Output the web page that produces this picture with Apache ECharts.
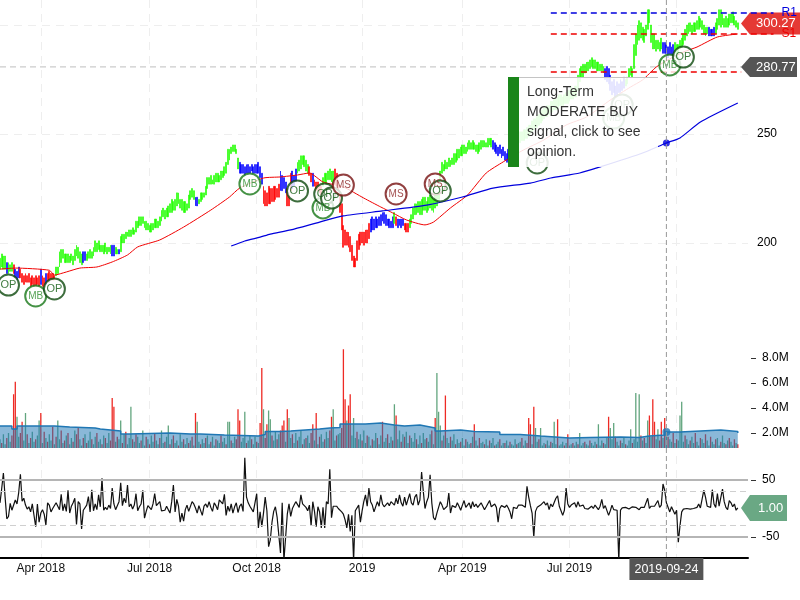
<!DOCTYPE html>
<html>
<head>
<meta charset="utf-8">
<style>html,body{margin:0;padding:0;background:#fff}#main{width:800px;height:600px}</style>
<script src="https://cdn.jsdelivr.net/npm/echarts@6/dist/echarts.min.js"></script>
</head>
<body>
<div id="main"></div>
<script>
// daily bars
var priceHigh = [
193,195,194,194,191,191,190,191,190,188,
187,189,188,186,185,186,185,186,184,185,
184,185,184,185,188,185,184,186,186,187,
186,186,185,189,189,196,197,197,195,195,
195,194,195,194,197,199,198,196,195,196,
196,195,196,197,196,198,201,200,201,199,
199,199,200,198,198,199,199,199,198,197,
197,203,204,204,205,205,206,206,207,206,
210,210,212,212,212,210,210,209,208,209,
209,211,211,210,212,215,216,215,216,217,
218,220,219,220,223,223,220,220,219,219,
218,222,224,225,224,221,221,220,223,223,
223,226,230,230,231,229,231,232,232,231,
233,233,235,237,243,243,244,245,245,243,
239,237,236,236,235,236,236,235,236,235,
236,236,237,235,232,226,224,223,226,225,
225,226,226,225,227,233,231,230,228,225,
222,232,233,231,234,237,238,240,240,240,
238,236,235,232,232,229,228,228,226,226,
230,232,232,233,234,233,233,234,232,228,
222,218,208,206,205,205,203,199,194,193,
201,204,205,205,205,206,206,209,211,212,
211,212,211,212,213,214,214,213,211,211,
210,212,214,212,211,211,211,211,209,209,
209,211,213,216,218,218,219,219,220,221,
221,219,221,222,221,220,222,222,226,233,
237,236,238,237,239,238,239,241,241,243,
243,244,245,245,244,246,247,246,247,246,
245,245,246,247,247,247,246,248,248,248,
247,246,245,244,245,243,244,242,241,243,
246,248,248,249,249,250,251,251,252,252,
253,254,254,256,257,257,258,259,260,261,
262,262,263,263,265,265,266,266,267,268,
268,267,268,269,270,270,272,271,272,272,
277,280,281,282,282,283,283,284,285,284,
284,283,283,282,282,281,280,281,280,277,
274,275,272,274,273,275,274,276,275,276,
280,281,280,291,296,300,302,301,299,298,
300,307,307,300,296,296,293,293,292,294,
292,292,291,290,292,290,291,292,291,291,
293,294,296,298,300,301,301,300,301,301,
302,304,303,302,300,299,299,299,298,298,
299,301,303,307,307,305,303,304,303,305,
305,306,304,302,301];
var priceLow = [
188,189,188,188,186,186,187,187,186,184,
183,184,184,182,181,182,182,182,180,181,
180,180,181,180,181,180,180,181,182,182,
183,183,183,185,186,189,191,193,191,191,
191,191,192,190,192,194,193,191,190,191,
192,192,193,193,193,194,196,196,197,196,
196,195,196,195,196,195,194,194,195,195,
195,196,200,200,202,203,203,203,204,204,
205,207,208,208,209,207,206,206,205,205,
206,207,207,207,208,210,212,211,212,212,
214,214,215,215,217,218,216,215,214,214,
215,216,220,221,220,217,217,218,219,220,
221,222,225,227,227,227,227,228,228,228,
229,230,231,232,236,238,241,242,242,241,
234,232,232,232,231,232,232,232,233,232,
232,232,232,230,227,218,217,217,218,218,
219,219,220,221,221,224,224,225,223,217,
217,224,225,226,228,232,233,234,236,235,
233,232,231,228,226,226,224,224,223,222,
226,228,227,229,229,228,227,227,226,222,
214,206,198,199,199,198,196,192,189,189,
192,197,199,200,199,200,200,202,205,206,
206,207,207,208,208,210,209,208,208,207,
207,207,209,208,207,208,207,208,206,205,
205,207,209,211,213,213,214,213,213,215,
215,214,215,216,215,214,216,217,220,225,
232,233,234,234,235,235,236,236,237,238,
239,240,240,241,241,242,243,243,243,243,
242,241,242,243,244,244,244,244,245,244,
243,242,241,240,241,239,240,238,237,238,
239,241,243,244,245,245,246,247,247,248,
248,249,250,251,252,253,253,254,255,256,
257,258,258,259,260,260,261,261,262,263,
263,263,264,264,264,265,266,266,267,267,
270,274,276,276,278,278,279,280,281,280,
280,279,279,279,279,278,275,274,273,270,
268,269,267,268,269,269,270,271,272,273,
276,277,276,280,286,291,293,294,293,292,
295,298,301,292,289,289,288,289,288,289,
287,287,287,285,286,286,286,287,286,287,
289,290,291,293,295,296,297,296,297,297,
298,298,299,298,296,295,296,295,295,295,
295,296,298,300,299,300,299,299,299,300,
301,301,300,299,298];
// colour of the bars as runs: last index of the run, then its key
var trendEnd = [3,4,7,8,11,23,24,26,27,32,48,50,65,67,69,70,114,116,140,154,164,168,171,174,181,183,184,189,196,217,231,232,233,237,240,289,300,355,367,389,396,416,420,434];
var trendKey = 'gbgrbrbrbrgbgbgbgbgbrbrbgrbrgrbgrbrgbgbgbgbg';
var volume = [ // millions, negative = red bar
1.5,-1.2,1.9,1.1,-1.6,2.0,1.3,-1.8,-5.1,-6.1,
3.3,1.7,-2.0,-2.9,1.4,3.6,-1.9,1.2,-1.6,2.1,
1.3,-1.5,1.8,3.0,-3.6,1.2,-2.1,1.6,-1.3,1.9,
1.4,-2.5,1.1,-1.7,3.0,1.5,-2.2,1.2,-1.4,1.8,
-2.0,1.1,1.6,-1.3,2.2,-1.9,-2.4,1.5,1.0,-1.6,
1.9,-1.2,1.4,2.1,-1.5,1.1,1.7,-2.0,1.3,1.5,
-1.1,1.8,-1.6,1.2,2.0,-1.4,-4.8,-4.1,1.3,-1.7,
1.5,3.0,-1.2,1.9,-2.1,1.1,1.6,4.1,-1.5,1.3,
-1.9,1.7,1.2,-1.4,2.2,1.0,-1.7,1.5,-1.1,1.8,
1.3,-2.0,1.4,1.1,-1.6,2.2,1.2,-1.3,1.7,2.6,
-1.1,1.5,-1.8,1.2,1.4,-1.0,1.9,1.3,-1.5,1.1,
1.6,-1.2,1.4,-1.7,1.0,-3.6,2.9,1.3,-1.1,1.5,
1.2,-1.6,1.8,1.1,-1.3,1.7,1.0,-1.5,1.4,1.2,
-1.8,1.3,1.6,-1.1,2.9,2.9,-1.4,1.2,1.7,-1.5,
-3.9,-3.0,1.3,1.6,3.7,-1.2,1.4,1.8,-1.5,1.1,
1.7,-1.3,1.2,-2.8,-7.2,3.9,-1.6,-2.7,3.8,3.1,
-1.8,1.4,2.1,-1.5,1.9,-2.2,-2.6,-3.0,1.3,-3.9,
3.2,1.6,-1.9,1.2,2.0,-1.4,1.7,2.2,-1.1,1.5,
-1.6,1.8,1.2,-2.0,-2.7,1.4,-3.6,1.1,-1.7,1.9,
1.3,-1.5,2.1,1.6,-2.2,-3.3,3.9,1.4,-1.8,1.9,
2.0,-2.4,-8.7,-4.7,3.0,-4.2,-5.1,1.8,3.2,1.6,
-2.1,1.5,1.9,-1.4,2.2,1.2,-1.8,1.7,1.0,-1.5,
1.4,2.0,-1.6,1.1,1.8,-2.9,1.3,1.6,-1.9,1.2,
1.7,-1.4,4.3,-3.4,1.5,2.2,-1.3,1.9,-1.7,2.1,
1.2,-1.8,1.6,1.3,2.0,-1.5,1.1,1.8,-1.2,2.0,
1.5,-1.6,1.3,1.9,-2.2,1.1,-3.2,6.8,3.7,2.6,
-1.4,1.8,-5.0,1.6,1.2,-1.7,1.4,1.9,-1.1,1.5,
1.2,-1.3,1.6,1.0,-1.5,1.3,1.1,-1.2,1.7,-2.7,
1.4,1.0,-1.6,1.2,1.3,-1.1,1.5,1.0,-1.4,1.2,
1.6,-1.0,1.1,1.3,-1.5,1.0,1.2,-1.2,1.4,1.0,
-1.3,1.1,1.0,1.5,-1.1,1.2,1.3,-1.6,1.0,1.4,
-1.2,-3.2,-2.7,1.1,-4.1,2.4,1.3,-1.5,2.4,1.0,
1.2,-1.1,1.4,1.0,-1.3,1.2,2.9,1.1,-3.1,1.0,
1.1,1.3,-1.0,1.2,-1.9,1.0,1.1,-1.2,1.0,1.3,
-1.1,2.0,1.0,1.2,-1.3,1.1,1.0,-1.4,1.2,1.0,
1.3,-1.1,2.7,1.0,1.4,-1.2,1.1,1.6,-3.3,2.4,
1.5,2.8,-1.7,1.3,1.0,-1.4,1.2,1.6,-1.1,1.0,
1.4,2.3,-1.2,1.5,5.2,1.3,5.1,-1.8,1.4,-1.6,
1.2,3.0,-3.4,1.7,-4.7,-2.9,1.5,2.3,-1.4,-2.9,
1.6,-3.2,1.9,-1.7,1.5,1.3,-2.0,1.2,-1.5,1.4,
3.4,4.5,1.3,-1.8,1.5,1.1,-1.4,1.7,1.2,-2.0,
1.3,1.0,-1.6,1.5,1.2,-1.9,1.4,1.0,-1.7,1.3,
1.1,-1.5,1.6,1.0,-1.3,1.8,1.2,-1.1,1.4,-1.6,
1.3,1.0,-1.5,1.2,-1.1];
var cci = [
10,35,62,20,-18,-14,9,-3,-5,15,
8,28,60,13,18,6,-1,3,-6,8,
5,-32,8,-24,-8,-2,-10,-29,10,6,
-6,0,-2,10,7,-2,25,-4,8,-5,
32,-8,4,10,18,-28,12,8,-36,-3,
-2,6,21,-6,33,-4,8,-2,24,3,
53,-3,2,-2,6,0,36,8,-2,0,
12,45,5,18,10,41,3,8,-1,6,
26,-4,3,8,32,-17,-5,5,2,-2,
8,26,5,6,12,-4,-1,-3,4,-2,
-8,12,41,-6,16,4,-24,-8,-22,-2,
6,-5,-3,12,8,1,-8,5,3,-12,
4,8,2,12,2,-5,10,5,-2,15,
12,8,25,-12,4,-5,8,-8,3,10,
-7,4,8,-5,89,20,10,4,6,-6,
-3,26,-34,-6,-32,-8,20,-4,-67,-55,
-24,-5,3,-15,-15,-78,10,-92,-92,-10,
8,-14,0,6,12,10,2,24,8,6,
2,-4,6,-30,12,-5,-32,3,-6,-34,
2,-34,12,8,69,-16,4,6,4,0,
3,-6,-10,-20,-34,-10,-40,-12,-92,-4,
-2,6,-24,-4,12,24,4,36,12,6,
-6,-3,12,4,24,8,3,6,10,5,
12,10,6,18,8,24,10,4,20,6,
3,26,10,6,20,25,6,15,64,30,
0,12,20,59,10,-16,-20,-8,2,12,
6,-2,0,4,27,-8,5,8,2,10,
4,-3,6,14,2,5,10,0,12,3,
8,2,5,10,4,-2,3,6,14,3,
6,8,2,-24,0,5,4,2,6,1,
-6,-18,2,4,0,6,3,6,8,2,
39,20,5,-8,-50,-5,2,0,6,3,
12,6,10,-2,8,3,6,18,22,4,
-4,-12,-3,36,8,2,6,3,10,2,
12,4,2,6,0,3,-1,-2,4,0,
6,2,-2,4,16,0,5,2,-12,-4,
6,-2,-4,-3,-92,-3,1,0,2,3,
-1,1,3,0,2,1,-2,2,4,2,
4,18,0,4,5,4,6,14,2,6,
43,32,10,8,-6,3,0,-10,-3,-59,
-30,-6,-1,-2,0,0,-1,0,0,-1,
2,8,1,2,32,20,4,6,2,33,
8,2,26,4,2,34,12,2,-2,14,
10,3,8,-3,1];
// moving averages: session index and value
var ma50Idx = [0,9,29,32,39,47,57,66,75,81,94,108,124,135,141,155,165,175,182,190,202,214,224,231,239,250,255,265,275,286,296,308,320,333,345,359,371,378,386,393,402,410,422,434];
var ma50Val = [188,188.5,187.5,185.3,186.7,188.5,189,191.3,194.5,198.2,201.4,207.3,215.1,221.1,225.2,229.8,230.3,231.2,232.1,228,225.7,220.6,216.5,213.8,210.6,208.3,209.6,216.1,222,232.1,237.2,242.7,247.3,254.1,257.8,265.6,271.6,274.8,280.7,284,287.6,289.9,294.5,295.9];
var ma200Idx = [136,144,153,159,171,188,202,225,251,272,290,312,324,341,353,378,392,400,412,434];
var ma200Val = [198.6,200.9,202.7,204.1,206,209.6,212.4,214.7,217.4,221.1,225.2,227.5,229.8,232.1,234.9,241.3,245.9,248.2,255.5,264.2];
var volMaIdx = [0,7,10,18,32,41,56,59,71,76,100,112,118,132,152,156,165,171,188,194,200,213,215,224,232,238,247,250,256,259,271,279,294,306,318,335,347,365,376,382,391,400,424,425,434];
var volMaVal = [2.56,2.32,2.56,2.56,2.48,2.4,2.32,2.16,1.92,2,1.92,1.92,1.84,1.76,1.88,2.12,2.16,2.32,2.4,2.44,2.72,2.72,2.8,2.64,2.56,2.64,2.56,2.4,2.16,2.24,2.12,2.08,1.88,1.76,1.6,1.64,1.68,1.64,1.76,1.84,2.08,2.24,2.24,2.12,2];
// signal markers
var markerKind = ['OP','MB','OP','MB','OP','MB','OP','OP','MS','MS','MS','OP','OP','MB','OP','MB','OP'];
var markerIdx = [5,21,32,147,175,190,191,195,202,233,256,259,316,361,366,394,402];
var markerPrice = [180.7,175.7,178.9,227.1,223.9,216.1,222.5,220.6,226.6,222.5,227.1,223.9,236.7,257.3,263.3,281.7,285.3];
// support / resistance
var levelName = ['R1','S1',''];
var levelValue = [305.5,295.9,278.4];
var levelColor = ['#0000dd','#ee0000','#ee0000'];
var levelEnd = [455,455,436];
var levelStart = 324;
var lastClose = 300.27;
var crossClose = 280.77;
var lastCci = 1.00;
var crossIdx = 392;
var crossDate = '2019-09-24';
var tickIdx = [24,88,151,213,272,335,398];
var tickLabel = ['Apr 2018','Jul 2018','Oct 2018','2019','Apr 2019','Jul 2019','Oct 2019'];
var priceTicks = [200,250,300];
var volumeTicks = [2,4,6,8];
var cciTicks = [-50,50];

var sessions = [];
for (var i = 0; i < 441; i++) sessions.push(i);
var wideSessions = [];
for (var i = 0; i < 461; i++) wideSessions.push(i);

var trendColor = {g:'#22ff00', b:'#0000ff', r:'#ff0000'};
function colorAt(i) {
	for (var k = 0; k < trendEnd.length; k++) {
		if (i <= trendEnd[k]) return trendColor[trendKey[k]];
	}
	return trendColor.g;
}
var bars = priceHigh.map(function (h, i) {
	var c = colorAt(i);
	return {value:[priceLow[i], h, priceLow[i], h], itemStyle:{color:c, color0:c, borderColor:c, borderColor0:c, borderWidth:0.6}};
});
var volBars = volume.map(function (v) {
	return {value:Math.abs(v), itemStyle:{color: v < 0 ? '#ee2a24' : '#62a57e'}};
});
function zip(a, b) { return a.map(function (x, i) { return [x, b[i]]; }); }
var markerStyle = {
	MB:{border:'#177717', text:'#2c8c2c', size:10},
	OP:{border:'#0d480d', text:'#0f5a0f', size:11},
	MS:{border:'#771010', text:'#8c2424', size:10}
};
var markers = markerIdx.map(function (x, i) {
	var s = markerStyle[markerKind[i]];
	return {
		value:[x, markerPrice[i]],
		itemStyle:{color:'#fff', borderColor:s.border, borderWidth:2},
		label:{show:true, position:'inside', formatter:markerKind[i], color:s.text, fontSize:s.size}
	};
});

var priceMin = 155.5, priceMax = 311.47;
var gridLine = {lineStyle:{color:'#eeeeee', type:[8,6], width:1}};
var xSplit = {show:true, interval:function (i) { return tickIdx.indexOf(i) >= 0; }, lineStyle:gridLine.lineStyle};
function paneX(idx, extra) {
	var o = {type:'category', gridIndex:idx, data:sessions, boundaryGap:false, axisLine:{show:false}, axisTick:{show:false}, axisLabel:{show:false}, splitLine:xSplit};
	for (var k in extra) o[k] = extra[k];
	return o;
}

var chart = echarts.init(document.getElementById('main'), null, {renderer:'canvas'});
var series = [
	{type:'candlestick', xAxisIndex:0, yAxisIndex:0, barWidth:1.4, data:bars, z:2},
	{type:'line', xAxisIndex:0, yAxisIndex:0, data:zip(ma50Idx, ma50Val), smooth:0.2, symbol:'none', lineStyle:{color:'#f00000', width:1}, z:3},
	{type:'line', xAxisIndex:0, yAxisIndex:0, data:zip(ma200Idx, ma200Val), smooth:0.2, symbol:'none', lineStyle:{color:'#0000dd', width:1.2}, z:3},
	{type:'scatter', xAxisIndex:0, yAxisIndex:0, data:[[crossIdx, ma200Val[ma200Idx.indexOf(crossIdx)]]], symbolSize:7, itemStyle:{color:'#0000dd'}, z:4},
	{type:'scatter', xAxisIndex:0, yAxisIndex:0, data:markers, symbolSize:21, z:30, clip:false},
	{type:'bar', xAxisIndex:1, yAxisIndex:1, data:volBars, barWidth:1.3, z:2},
	{type:'line', xAxisIndex:1, yAxisIndex:1, data:zip(volMaIdx, volMaVal), step:'end', symbol:'none', lineStyle:{color:'#1f77b4', width:1.5}, areaStyle:{color:'rgba(31,119,180,0.52)', opacity:1}, z:3},
	{type:'scatter', xAxisIndex:1, yAxisIndex:1, data:[[crossIdx, 2.08]], symbolSize:8, itemStyle:{color:'#1f77b4'}, z:4},
	{type:'line', xAxisIndex:2, yAxisIndex:2, data:cci, symbol:'none', lineStyle:{color:'#111', width:1.2}, z:3,
		markLine:{silent:true, symbol:'none', label:{show:false}, animation:false, data:[
			{yAxis:50, lineStyle:{color:'#b5b5b5', type:'solid', width:2}},
			{yAxis:-50, lineStyle:{color:'#b5b5b5', type:'solid', width:2}},
			{yAxis:30, lineStyle:{color:'#cfcfcf', type:[6,4], width:1}},
			{yAxis:-30, lineStyle:{color:'#cfcfcf', type:[6,4], width:1}}
		]}},
	// crosshair close guide
	{type:'line', xAxisIndex:3, yAxisIndex:3, data:[[0, crossClose],[436, crossClose]], symbol:'none', lineStyle:{color:'#cccccc', type:[6,4], width:1.2}, z:1},
	// crosshair across all panes
	{type:'line', xAxisIndex:4, yAxisIndex:4, symbol:'circle', symbolSize:0, lineStyle:{color:'#999', type:[5,3], width:1}, z:40,
		data:[{value:[crossIdx, 1]}, {value:[crossIdx, 0], label:{show:true, position:'bottom', distance:0, formatter:crossDate, backgroundColor:'#555', color:'#fff', fontSize:12.5, padding:[5,5,4,5]}}]}
];
levelName.forEach(function (n, k) {
	series.push({type:'line', xAxisIndex:3, yAxisIndex:3, data:[[levelStart, levelValue[k]],[levelEnd[k], levelValue[k]]], symbol:'none', z:20,
		lineStyle:{color:levelColor[k], type:[6,4], width:1.5},
		endLabel:{show:n !== '', formatter:n, color:levelColor[k], fontSize:12, distance:8}});
});

chart.setOption({
	animation:false,
	textStyle:{fontFamily:'"Liberation Sans", Arial, sans-serif'},
	grid:[
		{left:0, top:0, width:748, height:340},
		{left:0, top:345, width:748, height:103},
		{left:0, top:456, width:748, height:102},
		{left:0, top:0, width:782, height:340},
		{left:0, top:0, width:748, height:558}
	],
	xAxis:[
		paneX(0),
		paneX(1),
		paneX(2, {
			axisLine:{show:true, onZero:false, lineStyle:{color:'#000', width:2}},
			axisLabel:{show:true, interval:function (i) { return tickIdx.indexOf(i) >= 0; }, color:'#111', fontSize:12, margin:5,
				formatter:function (v, i) { return tickLabel[tickIdx.indexOf(i)]; }}
		}),
		{type:'category', gridIndex:3, data:wideSessions, boundaryGap:false, show:false},
		{type:'category', gridIndex:4, data:sessions, boundaryGap:false, show:false}
	],
	yAxis:[
		{type:'value', gridIndex:0, position:'right', min:priceMin, max:priceMax, axisLine:{show:false},
			axisTick:{show:false, customValues:priceTicks},
			axisLabel:{customValues:priceTicks, color:'#000', fontSize:12, margin:9},
			splitLine:{show:true, lineStyle:gridLine.lineStyle}},
		{type:'value', gridIndex:1, position:'right', offset:3, min:0.8, max:9.04, axisLine:{show:false},
			axisTick:{show:true, length:5, customValues:volumeTicks, lineStyle:{color:'#333'}},
			axisLabel:{customValues:volumeTicks, color:'#000', fontSize:12, margin:11, formatter:function (v) { return v.toFixed(1) + 'M'; }},
			splitLine:{show:false}},
		{type:'value', gridIndex:2, position:'right', offset:3, min:-86.8, max:92.1, axisLine:{show:false},
			axisTick:{show:true, length:5, customValues:cciTicks, lineStyle:{color:'#333'}},
			axisLabel:{customValues:cciTicks, color:'#000', fontSize:12, margin:11},
			splitLine:{show:false}},
		{type:'value', gridIndex:3, min:priceMin, max:priceMax, show:false},
		{type:'value', gridIndex:4, min:0, max:1, show:false}
	],
	series:series
});

// price tags on the right edge, placed from the axis scales
function tag(text, y, color, right, half) {
	return [
		{type:'polygon', z:10, shape:{points:[[741,y],[750,y-half],[right,y-half],[right,y+half],[750,y+half]]}, style:{fill:color}},
		{type:'text', z:11, x:right === 787 ? 758 : 756, y:y, style:{text:text, fill:'#fff', font:'13px "Liberation Sans", Arial', textVerticalAlign:'middle'}}
	];
}
var yLast = chart.convertToPixel({yAxisIndex:0}, lastClose);
var yCross = chart.convertToPixel({yAxisIndex:0}, crossClose);
var yCci = chart.convertToPixel({yAxisIndex:2}, lastCci);
var els = [].concat(
	tag(lastClose.toFixed(2), yLast - 1, '#e53935', 800, 11),
	tag(crossClose.toFixed(2), yCross, '#555555', 797, 10),
	tag(lastCci.toFixed(2), yCci, '#6aa884', 787, 13)
);
// signal box
els.push(
	{type:'rect', z:100, shape:{x:508, y:77, width:150, height:90}, style:{fill:'rgba(255,255,255,0.88)'}},
	{type:'line', z:101, shape:{x1:508, y1:77.5, x2:658, y2:77.5}, style:{stroke:'#c4c4c4', lineWidth:1}},
	{type:'rect', z:101, shape:{x:508, y:77, width:11, height:90}, style:{fill:'#1a851a'}},
	{type:'text', z:102, x:527, y:82, style:{text:'Long-Term\nMODERATE BUY\nsignal, click to see\nopinion.', fill:'#333', font:'14px "Liberation Sans", Arial', lineHeight:20}}
);
chart.setOption({graphic:{elements:els}});
</script>
</body>
</html>
